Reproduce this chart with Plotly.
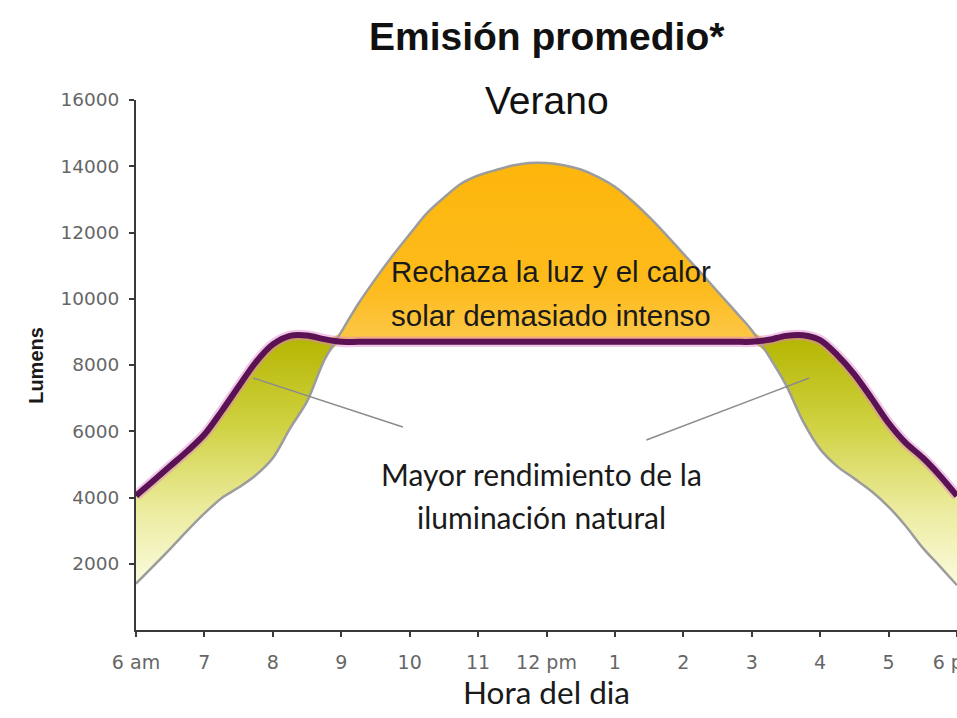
import plotly.graph_objects as go

# ---------------- data ----------------
hours = [6.0, 6.25, 6.5, 6.75, 7.0, 7.25, 7.5, 7.75, 8.0, 8.25, 8.5, 8.75, 9.0,
         9.25, 9.5, 9.75, 10.0, 10.25, 10.5, 10.75, 11.0, 11.25, 11.5, 11.75, 12.0,
         12.25, 12.5, 12.75, 13.0, 13.25, 13.5, 13.75, 14.0, 14.25, 14.5, 14.75,
         15.0, 15.25, 15.5, 15.75, 16.0, 16.25, 16.5, 16.75, 17.0, 17.25, 17.5, 17.75, 18.0]

# Controlled daylight (purple line)
controlled = [4050, 4500, 4950, 5400, 5900, 6600, 7350, 8080, 8620, 8880, 8890, 8780, 8700,
              8700, 8700, 8700, 8700, 8700, 8700, 8700, 8700, 8700, 8700, 8700, 8700,
              8700, 8700, 8700, 8700, 8700, 8700, 8700, 8700, 8700, 8700, 8700,
              8700, 8760, 8880, 8900, 8750, 8300, 7720, 7000, 6250, 5650, 5200, 4660, 4050]

# Uncontrolled daylight (gray line)
natural = [1400, 1920, 2450, 3000, 3520, 3980, 4300, 4670, 5190, 6080, 6900, 8140, 9000,
           9850, 10600, 11300, 11950, 12580, 13050, 13470, 13720, 13880, 14020, 14100, 14100,
           14030, 13900, 13680, 13380, 12960, 12470, 11930, 11360, 10800, 10220, 9640,
           9050, 8270, 7400, 6300, 5460, 4940, 4570, 4190, 3720, 3140, 2480, 1920, 1350]

x_tick_vals = [6, 7, 8, 9, 10, 11, 12, 13, 14, 15, 16, 17, 18]
x_tick_text = ["6 am", "7", "8", "9", "10", "11", "12 pm", "1", "2", "3", "4", "5", "6 pm"]
y_tick_vals = [2000, 4000, 6000, 8000, 10000, 12000, 14000, 16000]
y_tick_text = ["2000", "4000", "6000", "8000", "10000", "12000", "14000", "16000"]

upper = [max(n, c) for n, c in zip(natural, controlled)]
lower = [min(n, c) for n, c in zip(natural, controlled)]

PURPLE = "#5a1255"
GRAY = "#9c9c9c"
SM = 0.9

fig = go.Figure()

# orange region: natural light above the controlled level
fig.add_trace(go.Scatter(x=hours, y=controlled, mode="lines",
                         line=dict(width=0, shape="spline", smoothing=SM),
                         hoverinfo="skip"))
fig.add_trace(go.Scatter(x=hours, y=upper, mode="lines", fill="tonexty",
                         line=dict(width=0, shape="spline", smoothing=SM),
                         fillgradient=dict(type="vertical", start=8700, stop=14100,
                                           colorscale=[[0, "#fcc84a"], [0.3, "#fdbb1c"],
                                                       [1, "#fdb60c"]]),
                         hoverinfo="skip"))

# green region: controlled light above natural light
fig.add_trace(go.Scatter(x=hours, y=controlled, mode="lines",
                         line=dict(width=0, shape="spline", smoothing=SM),
                         hoverinfo="skip"))
fig.add_trace(go.Scatter(x=hours, y=lower, mode="lines", fill="tonexty",
                         line=dict(width=0, shape="spline", smoothing=SM),
                         fillgradient=dict(type="vertical", start=1300, stop=8900,
                                           colorscale=[[0, "#fbfbe0"], [0.3, "#ececa0"],
                                                       [0.65, "#cfd140"], [1, "#b4b500"]]),
                         hoverinfo="skip"))

# natural light curve
fig.add_trace(go.Scatter(x=hours, y=natural, mode="lines",
                         line=dict(color=GRAY, width=2.5, shape="spline", smoothing=SM),
                         hoverinfo="skip"))
# purple curve with a soft pink halo
fig.add_trace(go.Scatter(x=hours, y=controlled, mode="lines",
                         line=dict(color="rgba(225,130,205,0.45)", width=10.5,
                                   shape="spline", smoothing=SM),
                         hoverinfo="skip"))
fig.add_trace(go.Scatter(x=hours, y=controlled, mode="lines",
                         line=dict(color=PURPLE, width=6, shape="spline", smoothing=SM),
                         hoverinfo="skip"))

TXT = "Liberation Sans, Arial, sans-serif"
HUM = "Lato, Liberation Sans, sans-serif"

annotations = [
    dict(text="<b>Emisión promedio*</b>", x=12.0, xref="x", y=1.119, yref="paper",
         showarrow=False, font=dict(family=TXT, size=39, color="#111111"), yanchor="middle"),
    dict(text="Verano", x=12.0, xref="x", y=1.0, yref="paper",
         showarrow=False, font=dict(family=TXT, size=39, color="#111111"), yanchor="middle"),
    dict(text="Rechaza la luz y el calor", x=12.07, xref="x", y=10808, yref="y",
         showarrow=False, font=dict(family=TXT, size=29.5, color="#1a1a1a"), yanchor="middle"),
    dict(text="solar demasiado intenso", x=12.07, xref="x", y=9480, yref="y",
         showarrow=False, font=dict(family=TXT, size=29.5, color="#1a1a1a"), yanchor="middle"),
    dict(text="Mayor rendimiento de la", x=11.92, xref="x", y=4700, yref="y",
         showarrow=False, font=dict(family=HUM, size=30, color="#1a1a1a"), yanchor="middle"),
    dict(text="iluminación natural", x=11.92, xref="x", y=3400, yref="y",
         showarrow=False, font=dict(family=HUM, size=30, color="#1a1a1a"), yanchor="middle"),
    dict(text="Hora del dia", x=12.0, xref="x", y=-0.117, yref="paper",
         showarrow=False, font=dict(family=HUM, size=31.5, color="#1a1a1a"), yanchor="middle"),
    dict(text="<b>Lumens</b>", x=-0.122, xref="paper", y=0.5, yref="paper", textangle=-90,
         showarrow=False, font=dict(family=TXT, size=20, color="#1a1a1a"),
         xanchor="center", yanchor="middle"),
]

shapes = [
    dict(type="line", xref="x", yref="y", x0=7.71, y0=7608, x1=9.90, y1=6129,
         line=dict(color="#8c8c8c", width=1.5)),
    dict(type="line", xref="x", yref="y", x0=13.46, y0=5736, x1=15.84, y1=7608,
         line=dict(color="#8c8c8c", width=1.5)),
]

fig.update_layout(
    width=957, height=718,
    margin=dict(l=136, r=0, t=100, b=88),
    paper_bgcolor="white", plot_bgcolor="white",
    showlegend=False,
    annotations=annotations,
    shapes=shapes,
    xaxis=dict(range=[6, 18], showgrid=False, zeroline=False, automargin=False,
               showline=True, linecolor="#3a3a3a", linewidth=2,
               ticks="outside", ticklen=5, tickwidth=1.5, tickcolor="#3a3a3a",
               tickvals=x_tick_vals, ticktext=x_tick_text,
               tickfont=dict(family="DejaVu Sans, sans-serif", size=19, color="#666666"),
               ticklabeloverflow="allow", ticklabelstandoff=9),
    yaxis=dict(range=[0, 16000], showgrid=False, zeroline=False, automargin=False,
               showline=True, linecolor="#3a3a3a", linewidth=2,
               ticks="outside", ticklen=5, tickwidth=1.5, tickcolor="#3a3a3a",
               tickvals=y_tick_vals, ticktext=y_tick_text,
               tickfont=dict(family="DejaVu Sans, sans-serif", size=18.5, color="#666666"),
               ticklabelstandoff=6),
)

# remove the default page margin so the figure fills the window exactly
fig.write_html("out.html", config={"displayModeBar": False},
               post_script="document.body.style.margin='0';document.body.style.overflow='hidden';")
